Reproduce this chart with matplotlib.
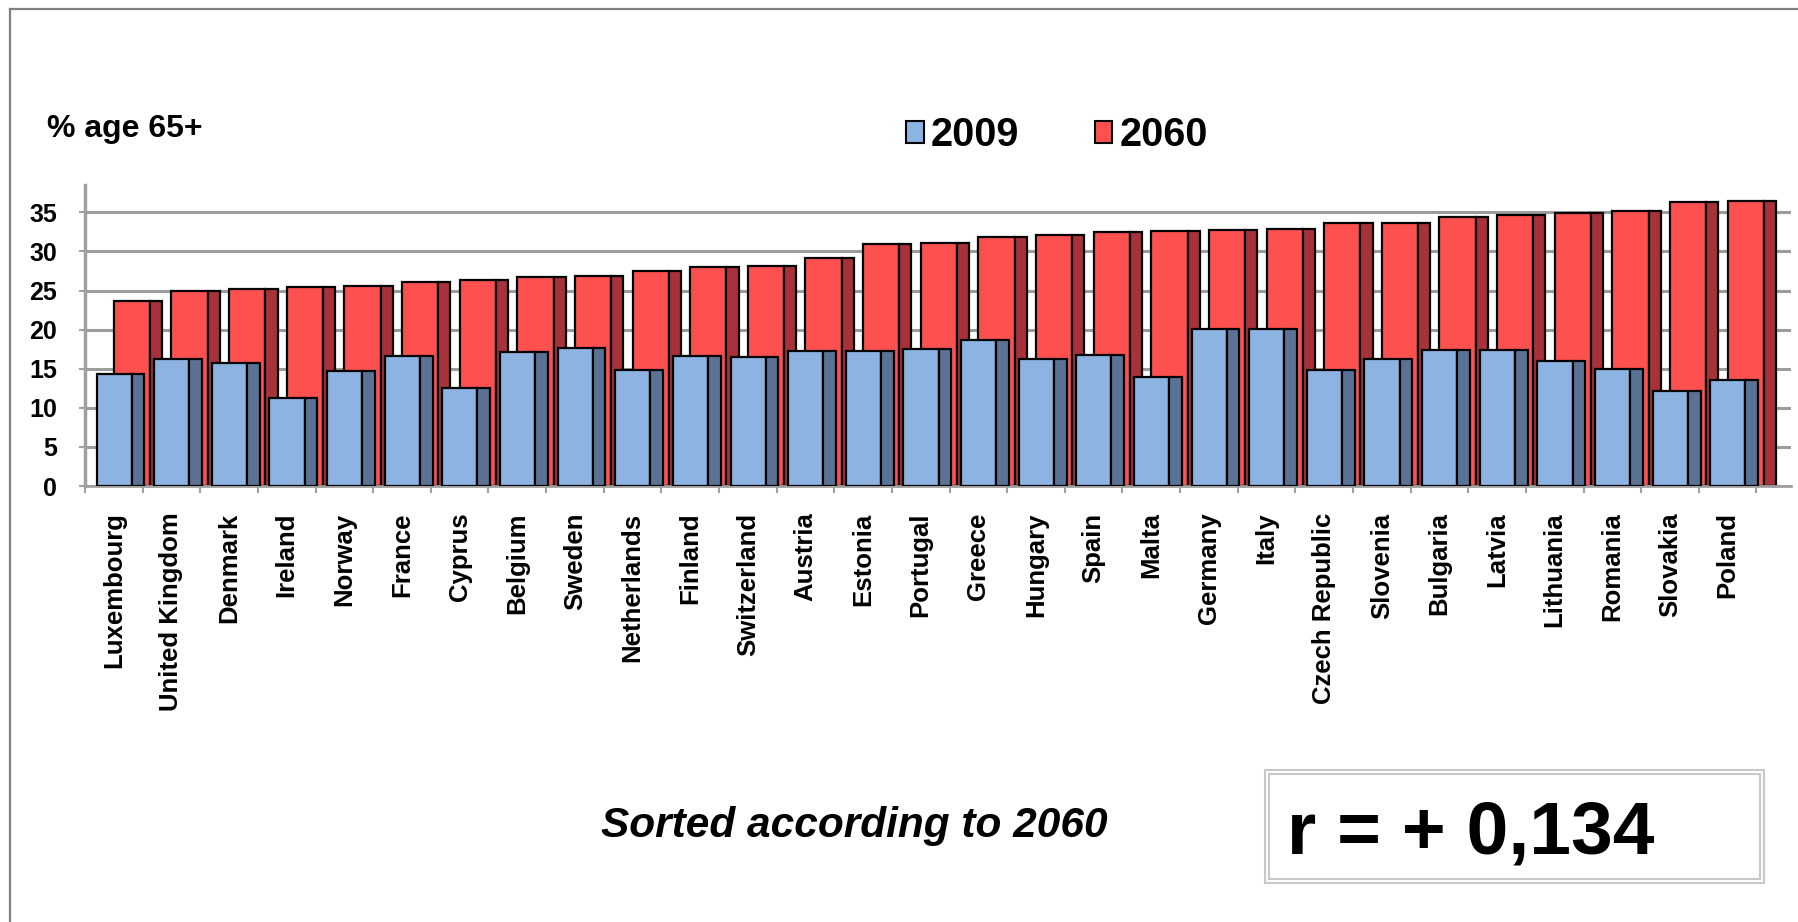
import numpy as np
import matplotlib
matplotlib.use('Agg')
import matplotlib.pyplot as plt
from matplotlib.patches import Patch, Rectangle
from matplotlib.lines import Line2D

plt.rcParams['font.family'] = ['Liberation Sans', 'DejaVu Sans']

countries = ['Luxembourg', 'United Kingdom', 'Denmark', 'Ireland', 'Norway', 'France',
             'Cyprus', 'Belgium', 'Sweden', 'Netherlands', 'Finland', 'Switzerland',
             'Austria', 'Estonia', 'Portugal', 'Greece', 'Hungary', 'Spain', 'Malta',
             'Germany', 'Italy', 'Czech Republic', 'Slovenia', 'Bulgaria', 'Latvia',
             'Lithuania', 'Romania', 'Slovakia', 'Poland']
pct_2009 = [14.3, 16.2, 15.7, 11.2, 14.7, 16.6, 12.5, 17.1, 17.6, 14.8, 16.6, 16.5,
            17.3, 17.3, 17.5, 18.7, 16.2, 16.7, 14.0, 20.1, 20.1, 14.8, 16.2, 17.4,
            17.4, 16.0, 15.0, 12.2, 13.6]
pct_2060 = [23.7, 25.0, 25.2, 25.4, 25.6, 26.1, 26.3, 26.7, 26.8, 27.5, 28.0, 28.1,
            29.1, 30.9, 31.1, 31.8, 32.1, 32.5, 32.6, 32.7, 32.9, 33.6, 33.6, 34.4,
            34.6, 34.9, 35.2, 36.3, 36.4]
years = ['2009', '2060']
r_text = 'r = + 0,134'

W, H = 1798, 922
fig = plt.figure(figsize=(W / 100, H / 100), dpi=100)
ax = fig.add_axes([85 / W, 1 - 486 / H, 1706 / W, 301 / H])

x = np.arange(len(countries))
blue, blue_side = '#8DB3E2', '#5A7395'
red, red_side = '#FF5050', '#A8323A'
edge = dict(edgecolor='black', linewidth=1.6, align='edge')

# back row (2060): front face + darker side face
ax.bar(x + 0.50, pct_2060, width=0.63, color=red, zorder=2, **edge)
ax.bar(x + 1.13, pct_2060, width=0.21, color=red_side, zorder=2, **edge)
# front row (2009)
ax.bar(x + 0.20, pct_2009, width=0.61, color=blue, zorder=3, **edge)
ax.bar(x + 0.81, pct_2009, width=0.22, color=blue_side, zorder=3, **edge)

ax.set_xlim(0, 29.6)
ax.set_ylim(0, 38.5)
ax.set_yticks(np.arange(0, 36, 5))
ax.yaxis.grid(True, color='#9C9C9C', linewidth=2.2, zorder=0)
ax.set_axisbelow(True)

ax.set_xticks(np.arange(0, len(countries) + 1))
ax.set_xticklabels([])
ax.set_xticks(x + 0.5, minor=True)
ax.set_xticklabels(countries, minor=True, rotation=90, va='top', ha='center',
                   fontsize=18.5, fontweight='bold')
ax.tick_params(axis='x', which='minor', length=0, pad=19)
ax.tick_params(axis='x', which='major', length=5, width=1.5, color='#A0A0A0')
ax.tick_params(axis='y', length=4, width=1.5, color='#A0A0A0', pad=16, labelsize=18)
for lab in ax.get_yticklabels():
    lab.set_fontweight('bold')

for s in ['top', 'right']:
    ax.spines[s].set_visible(False)
ax.spines['left'].set_color('#A0A0A0')
ax.spines['left'].set_linewidth(2.5)
ax.spines['bottom'].set_color('#A0A0A0')
ax.spines['bottom'].set_linewidth(2.0)

fig.text(47 / W, 1 - 137 / H, '% age 65+', fontsize=23, fontweight='bold',
         ha='left', va='baseline')

handles = [Patch(facecolor=blue, edgecolor='black', linewidth=1.5),
           Patch(facecolor=red, edgecolor='black', linewidth=1.5)]
fig.legend(handles, years, loc='center left', bbox_to_anchor=(906 / W, 1 - 135 / H),
           ncol=2, frameon=False, borderpad=0, borderaxespad=0,
           handlelength=0.45, handleheight=0.45, handletextpad=0.18, columnspacing=1.9,
           prop={'weight': 'bold', 'size': 28.5})

fig.text(854 / W, 1 - 837 / H, 'Sorted according to 2060', fontsize=30.5,
         fontweight='bold', fontstyle='italic', ha='center', va='baseline')

# correlation box with double grey frame
fig.patches.append(Rectangle((1265 / W, 1 - 883 / H), 499 / W, 113 / H,
                             transform=fig.transFigure, fill=False,
                             edgecolor='#C8C8C8', linewidth=1.5))
fig.patches.append(Rectangle((1269 / W, 1 - 879 / H), 491 / W, 105 / H,
                             transform=fig.transFigure, fill=False,
                             edgecolor='#C8C8C8', linewidth=1.5))
fig.text(1287 / W, 1 - 853 / H, r_text, fontsize=54, fontweight='bold',
         ha='left', va='baseline')

# outer slide frame (top and left edges)
fig.lines.append(Line2D([10 / W, 1], [1 - 9 / H, 1 - 9 / H], transform=fig.transFigure,
                        color='#808080', linewidth=1.6))
fig.lines.append(Line2D([10 / W, 10 / W], [0, 1 - 9 / H], transform=fig.transFigure,
                        color='#808080', linewidth=1.6))

fig.savefig('out.png', dpi=100)
